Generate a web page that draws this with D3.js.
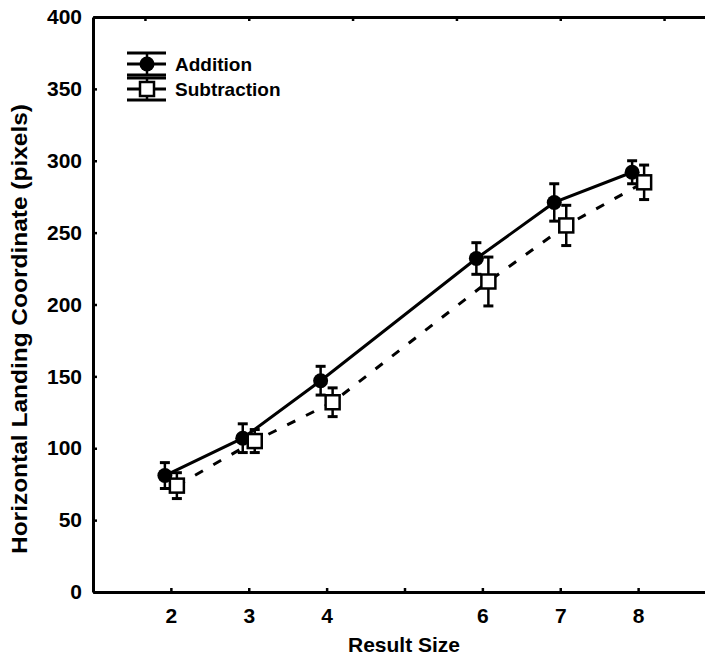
<!DOCTYPE html>
<html>
<head>
<meta charset="utf-8">
<script src="https://cdn.jsdelivr.net/npm/d3@7"></script>
<style>
  body { margin: 0; background: #fff; }
  svg { display: block; font-family: "Liberation Sans", Arial, sans-serif; font-weight: bold; }
</style>
</head>
<body>
<svg id="chart" width="705" height="657"></svg>
<script>
// values
var resultSizes = [2, 3, 4, 6, 7, 8];
var additionMeans = [81, 107, 147, 232, 271, 292];
var additionErr = [9, 10, 10, 11, 13, 8];
var subtractionMeans = [74, 105, 132, 216, 255, 285];
var subtractionErr = [9, 8, 10, 17, 14, 12];

var xTicks = [2, 3, 4, 5, 6, 7, 8];
var xTopTicks = [1.667, 3, 4.333, 5.667, 7, 8.333];
var yTicks = [0, 50, 100, 150, 200, 250, 300, 350, 400];
var seriesNames = ["Addition", "Subtraction"];

var svg = d3.select("#chart"),
    width = +svg.attr("width"),
    height = +svg.attr("height");

var plotLeft = 93, plotTop = 17, plotBottom = 592;

var x = d3.scaleLinear().domain([1, 9]).range([plotLeft, 716]);
var y = d3.scaleLinear().domain([0, 400]).range([plotBottom, plotTop]);

var addition = resultSizes.map(function (d, i) {
    return {x: d, y: additionMeans[i], e: additionErr[i]};
});
var subtraction = resultSizes.map(function (d, i) {
    return {x: d, y: subtractionMeans[i], e: subtractionErr[i]};
});

// axes
svg.append("g")
    .attr("transform", "translate(" + plotLeft + ",0)")
    .call(d3.axisLeft(y).tickValues(yTicks).tickSize(-4).tickSizeOuter(0).tickPadding(11));

svg.append("g")
    .attr("transform", "translate(0," + plotBottom + ")")
    .call(d3.axisBottom(x).tickValues(xTicks).tickSize(-4).tickSizeOuter(0).tickPadding(16)
        .tickFormat(function (d) { return d === 5 ? "" : d; }));

svg.append("g")
    .attr("transform", "translate(0," + plotTop + ")")
    .call(d3.axisTop(x).tickValues(xTopTicks).tickSize(-4).tickSizeOuter(0).tickFormat(""));

svg.selectAll(".domain").attr("stroke", "#000").attr("stroke-width", 3);
svg.selectAll(".tick line").attr("stroke", "#000").attr("stroke-width", 2.5);
svg.selectAll(".tick text")
    .attr("fill", "#000")
    .style("font-family", "'Liberation Sans', Arial, sans-serif")
    .style("font-weight", "bold")
    .style("font-size", "21px");

// axis titles
svg.append("text")
    .attr("x", 404)
    .attr("y", 652)
    .attr("text-anchor", "middle")
    .style("font-size", "21px")
    .text("Result Size");

svg.append("text")
    .attr("transform", "translate(27,329) rotate(-90)")
    .attr("text-anchor", "middle")
    .attr("textLength", 450)
    .attr("lengthAdjust", "spacingAndGlyphs")
    .style("font-size", "22px")
    .text("Horizontal Landing Coordinate (pixels)");

var line = d3.line()
    .x(function (d) { return d.px; })
    .y(function (d) { return y(d.y); });

function drawSeries(data, dx, dashed, marker) {
    data.forEach(function (d) { d.px = x(d.x) + dx; });
    var g = svg.append("g");

    g.append("path")
        .datum(data)
        .attr("fill", "none")
        .attr("stroke", "#000")
        .attr("stroke-width", 3)
        .attr("stroke-dasharray", dashed ? "9,12" : null)
        .attr("d", line);

    var bars = g.selectAll(".err")
        .data(data)
        .enter().append("g")
        .attr("class", "err");
    bars.append("line")
        .attr("x1", function (d) { return d.px; })
        .attr("x2", function (d) { return d.px; })
        .attr("y1", function (d) { return y(d.y - d.e); })
        .attr("y2", function (d) { return y(d.y + d.e); })
        .attr("stroke", "#000").attr("stroke-width", 2.5);
    [-1, 1].forEach(function (s) {
        bars.append("line")
            .attr("x1", function (d) { return d.px - 5; })
            .attr("x2", function (d) { return d.px + 5; })
            .attr("y1", function (d) { return y(d.y + s * d.e); })
            .attr("y2", function (d) { return y(d.y + s * d.e); })
            .attr("stroke", "#000").attr("stroke-width", 3);
    });

    if (marker === "circle") {
        g.selectAll(".pt")
            .data(data)
            .enter().append("circle")
            .attr("class", "pt")
            .attr("cx", function (d) { return d.px; })
            .attr("cy", function (d) { return y(d.y); })
            .attr("r", 7.5)
            .attr("fill", "#000");
    } else {
        g.selectAll(".pt")
            .data(data)
            .enter().append("rect")
            .attr("class", "pt")
            .attr("x", function (d) { return d.px - 7; })
            .attr("y", function (d) { return y(d.y) - 7; })
            .attr("width", 14)
            .attr("height", 14)
            .attr("fill", "#fff")
            .attr("stroke", "#000")
            .attr("stroke-width", 2.5);
    }
}

drawSeries(addition, -6, false, "circle");
drawSeries(subtraction, 6, true, "square");

// legend
var legend = svg.append("g");
var legendRows = [{cy: 64, top: 53, bot: 75, marker: "circle"}, {cy: 89, top: 78, bot: 100, marker: "square"}];
legendRows.forEach(function (r, i) {
    [r.top, r.cy, r.bot].forEach(function (ly) {
        legend.append("line")
            .attr("x1", 127).attr("x2", 166)
            .attr("y1", ly).attr("y2", ly)
            .attr("stroke", "#000").attr("stroke-width", 3);
    });
    legend.append("line")
        .attr("x1", 147).attr("x2", 147)
        .attr("y1", r.top).attr("y2", r.bot)
        .attr("stroke", "#000").attr("stroke-width", 2.5);
    if (r.marker === "circle") {
        legend.append("circle").attr("cx", 147).attr("cy", r.cy).attr("r", 7.5).attr("fill", "#000");
    } else {
        legend.append("rect").attr("x", 140).attr("y", r.cy - 7).attr("width", 14).attr("height", 14)
            .attr("fill", "#fff").attr("stroke", "#000").attr("stroke-width", 2.5);
    }
    legend.append("text")
        .attr("x", 175)
        .attr("y", r.cy + 7)
        .style("font-size", "19px")
        .text(seriesNames[i]);
});
</script>
</body>
</html>
